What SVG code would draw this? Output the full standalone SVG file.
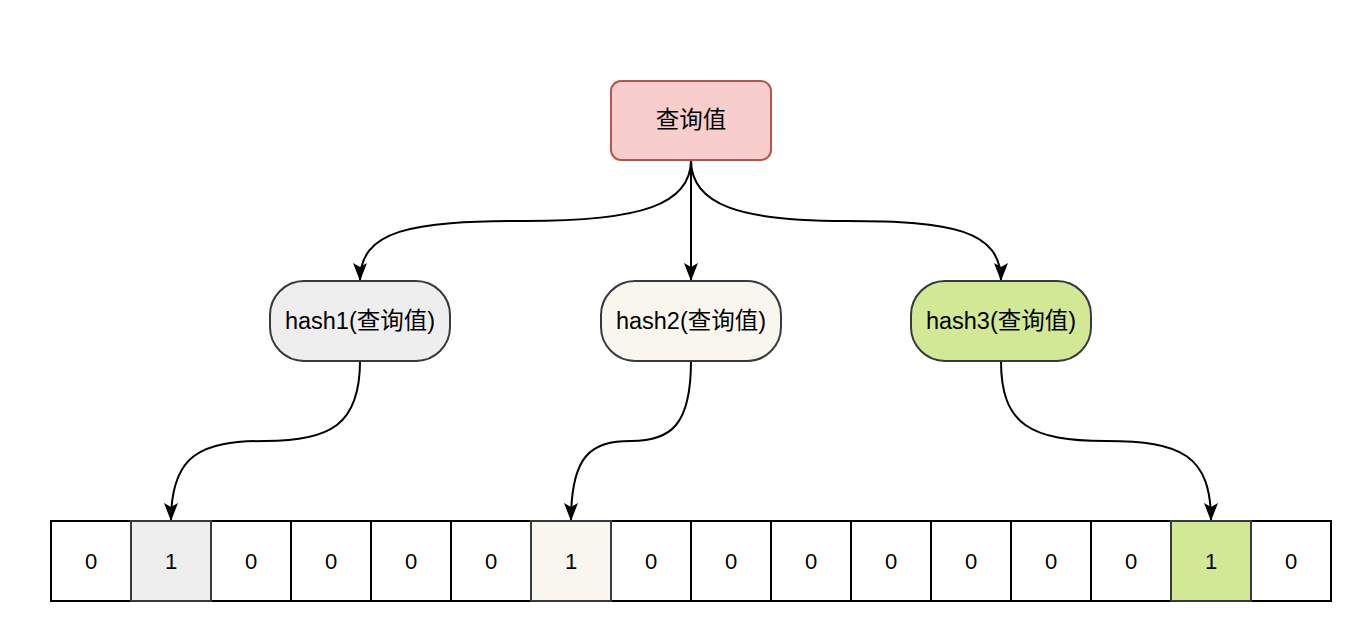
<svg xmlns="http://www.w3.org/2000/svg" width="1362" height="626" viewBox="0 0 1362 626">
<style>
text{font-family:"Liberation Sans","Noto Sans CJK SC",sans-serif;font-size:22px;fill:#000;text-anchor:middle}
.lbl{font-size:23.5px}
.cell{fill:#fff;stroke:#000;stroke-width:2}
.gray{fill:#eeeeee;stroke:#36393d;stroke-width:2}
.cream{fill:#f9f7ed;stroke:#36393d;stroke-width:2}
.green{fill:#d3e894;stroke:#36393d;stroke-width:2}
.edge{fill:none;stroke:#000;stroke-width:2;marker-end:url(#arr)}
</style>
<defs>
<marker id="arr" markerUnits="userSpaceOnUse" markerWidth="20" markerHeight="16" refX="18" refY="7" orient="auto">
<path d="M0,0 L18,7 L0,14 L4,7 Z" fill="#000"/>
</marker>
</defs>
<rect width="1362" height="626" fill="#fff"/>
<g id="connectors">
<path class="edge" d="M691 160 C691 205 640 221 525 221 C410 221 360 230 360 281"/>
<path class="edge" d="M691 160 L691 281"/>
<path class="edge" d="M691 160 C691 205 740 221 846 221 C952 221 1001 230 1001 281"/>
<path class="edge" d="M360 361 C360 425 330 441 265 441 C200 441 171 455 171 521"/>
<path class="edge" d="M691 361 C691 425 671 441 631 441 C591 441 571 455 571 521"/>
<path class="edge" d="M1001 361 C1001 425 1031 441 1106 441 C1181 441 1211 455 1211 521"/>
</g>
<g id="query">
<rect x="611" y="81" width="160" height="79" rx="10" fill="#f8cecc" stroke="#b85450" stroke-width="2"/>
<text class="lbl" x="691" y="128">查询值</text>
</g>
<g id="hash1">
<rect x="270" y="281" width="180" height="80" rx="34" class="gray"/>
<text class="lbl" x="360" y="329">hash1(查询值)</text>
</g>
<g id="hash2">
<rect x="601" y="281" width="180" height="80" rx="34" class="cream"/>
<text class="lbl" x="691" y="329">hash2(查询值)</text>
</g>
<g id="hash3">
<rect x="911" y="281" width="180" height="80" rx="34" class="green"/>
<text class="lbl" x="1001" y="329">hash3(查询值)</text>
</g>
<g id="array">
<g id="c0"><rect class="cell" x="51" y="521" width="80" height="80"/><text x="91" y="569">0</text></g>
<g id="c2"><rect class="cell" x="211" y="521" width="80" height="80"/><text x="251" y="569">0</text></g>
<g id="c3"><rect class="cell" x="291" y="521" width="80" height="80"/><text x="331" y="569">0</text></g>
<g id="c4"><rect class="cell" x="371" y="521" width="80" height="80"/><text x="411" y="569">0</text></g>
<g id="c5"><rect class="cell" x="451" y="521" width="80" height="80"/><text x="491" y="569">0</text></g>
<g id="c7"><rect class="cell" x="611" y="521" width="80" height="80"/><text x="651" y="569">0</text></g>
<g id="c8"><rect class="cell" x="691" y="521" width="80" height="80"/><text x="731" y="569">0</text></g>
<g id="c9"><rect class="cell" x="771" y="521" width="80" height="80"/><text x="811" y="569">0</text></g>
<g id="c10"><rect class="cell" x="851" y="521" width="80" height="80"/><text x="891" y="569">0</text></g>
<g id="c11"><rect class="cell" x="931" y="521" width="80" height="80"/><text x="971" y="569">0</text></g>
<g id="c12"><rect class="cell" x="1011" y="521" width="80" height="80"/><text x="1051" y="569">0</text></g>
<g id="c13"><rect class="cell" x="1091" y="521" width="80" height="80"/><text x="1131" y="569">0</text></g>
<g id="c15"><rect class="cell" x="1251" y="521" width="80" height="80"/><text x="1291" y="569">0</text></g>
<g id="c1"><rect class="gray" x="131" y="521" width="80" height="80"/><text x="171" y="569">1</text></g>
<g id="c6"><rect class="cream" x="531" y="521" width="80" height="80"/><text x="571" y="569">1</text></g>
<g id="c14"><rect class="green" x="1171" y="521" width="80" height="80"/><text x="1211" y="569">1</text></g>
</g>
</svg>
